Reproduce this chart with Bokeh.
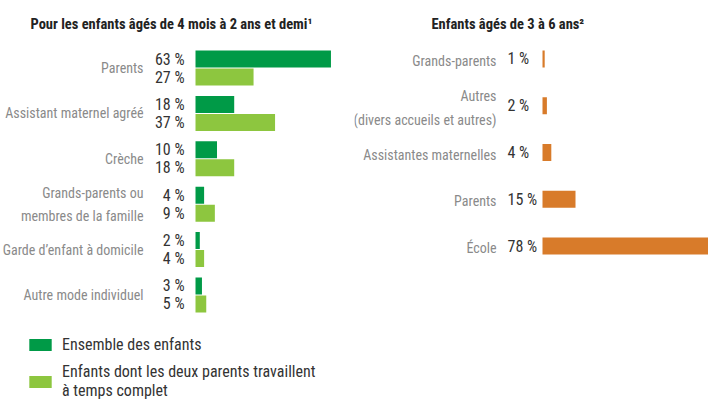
from bokeh.plotting import figure
from bokeh.models import FactorRange, Range1d, ColumnDataSource, Legend, LegendItem
from bokeh.layouts import row, column
from bokeh.core.properties import value
from bokeh.embed import file_html
from bokeh.resources import INLINE

# ---------------- data ----------------
left_title = "Pour les enfants âgés de 4 mois à 2 ans et demi¹"
right_title = "Enfants âgés de 3 à 6 ans²"

left_categories = [
    "Parents",
    "Assistant maternel agréé",
    "Crèche",
    "Grands-parents ou\nmembres de la famille",
    "Garde d’enfant à domicile",
    "Autre mode individuel",
]
series_keys = ["ens", "tc"]
series_names = [
    "Ensemble des enfants",
    "Enfants dont les deux parents travaillent\nà temps complet",
]
left_all = [63, 18, 10, 4, 2, 3]
left_full = [27, 37, 18, 9, 4, 5]

right_categories = [
    "Grands-parents",
    "Autres\n(divers accueils et autres)",
    "Assistantes maternelles",
    "Parents",
    "École",
]
right_values = [1, 2, 4, 15, 78]

# ---------------- style ----------------
FONT = "Roboto Condensed"
DARK = "#009a47"
LIGHT = "#8dc63f"
ORANGE = "#d87b2a"
CAT_COL = "#8a8a8a"
VAL_COL = "#333333"
TITLE_COL = "#222222"
series_colors = [DARK, LIGHT]


def pct(v):
    return f"{v} %"


def style_title(fig, offset):
    fig.title.text_font = FONT
    fig.title.text_font_size = "14.5px"
    fig.title.text_font_style = "bold"
    fig.title.text_color = TITLE_COL
    fig.title.align = "left"
    fig.title.offset = offset
    fig.title.standoff = 5


def bare(fig):
    fig.grid.visible = False
    return fig


# ---------------- left panel ----------------
factors = [(c, k) for c in reversed(left_categories) for k in reversed(series_keys)]
yl = FactorRange(factors=factors, group_padding=0.52, factor_padding=0,
                 range_padding=0.806, range_padding_units="absolute")

pl = bare(figure(width=354, height=327, x_range=Range1d(-90.7, 73.95), y_range=yl,
                 x_axis_location=None, y_axis_location=None, toolbar_location=None,
                 output_backend="svg", min_border_left=0, min_border_right=0,
                 min_border_top=35, min_border_bottom=0, outline_line_color=None,
                 title=left_title))
style_title(pl, 30)

for key, vals, col in zip(series_keys, (left_all, left_full), series_colors):
    src = ColumnDataSource(dict(y=[(c, key) for c in left_categories], v=vals,
                                lab=[pct(v) for v in vals]))
    pl.hbar(y="y", left=0, right="v", height=0.94, fill_color=col, line_color=None, source=src)
    pl.text(x=0, y="y", text="lab", x_offset=-11, text_align="right", text_baseline="middle",
            text_font=value(FONT), text_font_size="16px", text_color=VAL_COL, source=src)

cat_src = ColumnDataSource(dict(y=left_categories))
pl.text(x=0, y="y", text="y", x_offset=-52, text_align="right", text_baseline="middle",
        text_font=value(FONT), text_font_size="14px", text_color=CAT_COL,
        text_line_height=1.45, source=cat_src)

# ---------------- legend (below the left panel) ----------------
# legend keys: zero-width carriers (draw nothing in the plot area, only in the legend)
pleg = bare(figure(width=354, height=75, x_range=Range1d(0, 1), y_range=Range1d(0, 1),
                   x_axis_location=None, y_axis_location=None, toolbar_location=None,
                   output_backend="svg", min_border=0, outline_line_color=None))
for i, loc in enumerate([(26, 48), (26, 2)]):
    key_src = ColumnDataSource(dict(y=[0.5], v=[0]))
    key_r = pleg.hbar(y="y", left=0, right="v", height=0, fill_color=series_colors[i],
                      line_color=None, source=key_src)
    leg = Legend(items=[LegendItem(label=series_names[i], renderers=[key_r])],
                 location=loc, padding=0, margin=0, spacing=0,
                 border_line_color=None, background_fill_alpha=0,
                 glyph_width=28, glyph_height=15, label_standoff=8, label_height=15,
                 label_text_font=FONT, label_text_font_size="16px",
                 label_text_color=VAL_COL, label_text_line_height=0.95)
    pleg.add_layout(leg)

# ---------------- right panel ----------------
yr = FactorRange(factors=list(reversed(right_categories)), range_padding=0, factor_padding=0)
pr = bare(figure(width=354, height=269, x_range=Range1d(-85.45, 75.45), y_range=yr,
                 x_axis_location=None, y_axis_location=None, toolbar_location=None,
                 output_backend="svg", min_border_left=0, min_border_right=0,
                 min_border_top=35, min_border_bottom=0, outline_line_color=None,
                 title=right_title))
style_title(pr, 77)

rsrc = ColumnDataSource(dict(y=right_categories, v=right_values,
                             lab=[pct(v) for v in right_values]))
pr.hbar(y="y", left=0, right="v", height=0.363, fill_color=ORANGE, line_color=None, source=rsrc)
pr.text(x=0, y="y", text="lab", x_offset=-35, text_align="left", text_baseline="middle",
        text_font=value(FONT), text_font_size="16px", text_color=VAL_COL, source=rsrc)
pr.text(x=0, y="y", text="y", x_offset=-46, y_offset=2, text_align="right", text_baseline="middle",
        text_font=value(FONT), text_font_size="14px", text_color=CAT_COL,
        text_line_height=1.5, source=rsrc)

layout = column(row(pl, pr), pleg)
open("out.html", "w").write(file_html(layout, INLINE))
